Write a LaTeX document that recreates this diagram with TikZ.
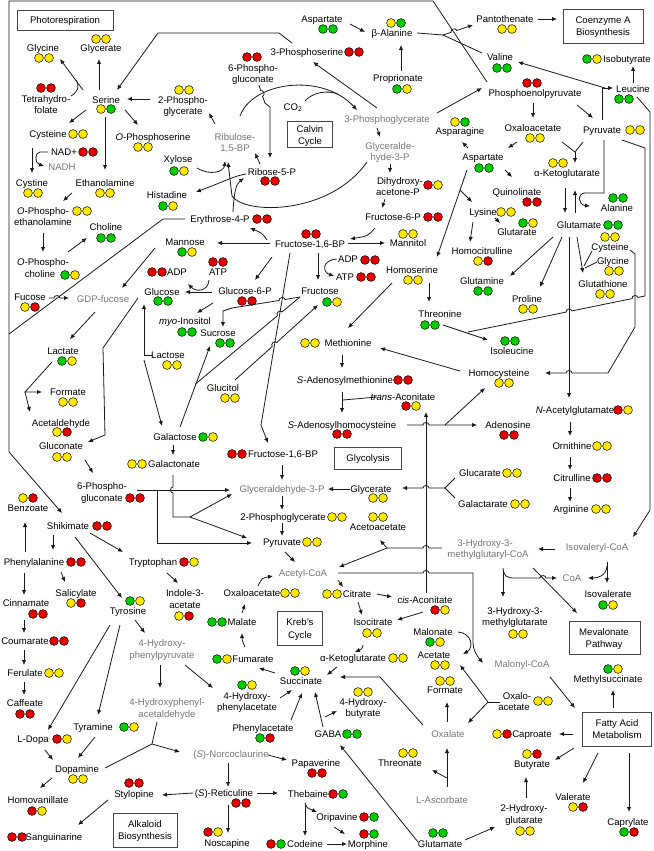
\documentclass[tikz,border=0pt]{standalone}
\usepackage{fontspec}
\setmainfont{Liberation Sans}
\usetikzlibrary{arrows.meta,calc}
\definecolor{R}{RGB}{228,0,0}
\definecolor{Y}{RGB}{255,232,0}
\definecolor{G}{RGB}{0,205,0}
\definecolor{gtxt}{RGB}{118,118,118}
\definecolor{lc}{RGB}{25,25,25}
\definecolor{bxc}{RGB}{70,70,70}
\tikzset{
  lb/.style={font=\fontsize{9.6}{11}\selectfont, inner sep=0pt, anchor=base, yshift=-3.4pt},
  gl/.style={lb, text=gtxt},
  ln/.style={draw=lc, line width=0.8pt},
  arr/.style={ln, -{Latex[length=5pt,width=4.4pt]}},
  bx/.style={draw=bxc, line width=0.9pt},
  hop/.style={bend left=90, looseness=1.4},
  hopr/.style={bend right=90, looseness=1.4},
}
\newcommand\dd[4]{\filldraw[draw=black,line width=0.5pt,fill=#3] (#1,#2) circle (4.4pt);\filldraw[draw=black,line width=0.5pt,fill=#4] ({#1+10},#2) circle (4.4pt);}
\begin{document}
\begin{tikzpicture}[x=1pt,y=-1pt]
\useasboundingbox (0,0) rectangle (653,851);
\fill[white] (0,0) rectangle (653,851);
% ---------------- boxes
\draw[bx] (17,10) rectangle (113,30); \node[lb] (photo) at (65,20) {Photorespiration};
\draw[bx] (287,121) rectangle (332,147); \node[lb] (calv1) at (310,129) {Calvin}; \node[lb] (calv2) at (310,141) {Cycle};
\draw[bx] (563,9) rectangle (643,43); \node[lb] (coa1) at (603,20) {Coenzyme A}; \node[lb] (coa2) at (603,32) {Biosynthesis};
\draw[bx] (334,447) rectangle (401,469); \node[lb] (glyco) at (368,458) {Glycolysis};
\draw[bx] (277,611) rectangle (322,645); \node[lb] (kr1) at (300,622) {Kreb’s}; \node[lb] (kr2) at (300,635) {Cycle};
\draw[bx] (569,621) rectangle (640,654); \node[lb] (mev1) at (604,632) {Mevalonate}; \node[lb] (mev2) at (604,644) {Pathway};
\draw[bx] (582,712) rectangle (651,746); \node[lb] (fam1) at (617,723) {Fatty Acid}; \node[lb] (fam2) at (617,735) {Metabolism};
\draw[bx] (113,813) rectangle (177,847); \node[lb] (alk1) at (145,824) {Alkaloid}; \node[lb] (alk2) at (145,836) {Biosynthesis};
% ---------------- top-left
\node[lb] (glyc1) at (101,48) {Glycerate}; \dd{96}{39}{Y}{Y}
\node[lb] (glycine1) at (43,48) {Glycine}; \dd{39}{58}{Y}{Y}
\node[lb] (thf) at (46,99) {Tetrahydro-}; \node[lb] at (46,110) {folate}; \dd{41}{88}{R}{R}
\node[lb] (ser) at (106,100) {Serine}; \dd{101}{109}{Y}{G}
\node[lb] (pg2a) at (183,100) {2-Phospho-}; \node[lb] at (183,111) {glycerate}; \dd{179}{90}{Y}{Y}
\node[lb] (cys1) at (48,134) {Cysteine}; \dd{73}{134}{Y}{Y}
\node[lb] (ophser) at (153,137) {\textit{O}-Phosphoserine}; \dd{138}{147}{Y}{Y}
\node[lb] (nad) at (64,152) {NAD+}; \dd{83}{152}{R}{R}
\node[gl] (nadh) at (62,167) {NADH};
\node[lb] (cystine) at (32,183) {Cystine}; \dd{28}{193}{Y}{Y}
\node[lb] (etha) at (105,183) {Ethanolamine}; \dd{100}{193}{Y}{Y}
\node[lb] (xyl) at (178,159) {Xylose}; \dd{174}{171}{G}{Y}
\node[lb] (his) at (167,195) {Histadine}; \dd{163}{206}{G}{Y}
\node[gl] (rubp) at (235,137) {Ribulose-}; \node[gl] at (235,148) {1,5-BP};
\node[lb] (opea) at (43,211) {\textit{O}-Phospho-}; \node[lb] at (43,222) {ethanolamine}; \dd{77}{211}{Y}{Y}
\node[lb] (opcho) at (43,262) {\textit{O}-Phospho-}; \node[lb] at (40,274) {choline}; \dd{65}{275}{G}{Y}
\node[lb] (chol) at (106,227) {Choline}; \dd{101}{238}{G}{G}
\node[lb] (e4p) at (220,219) {Erythrose-4-P}; \dd{257}{219}{R}{R}
\node[lb] (man) at (185,242) {Mannose}; \dd{182}{252}{G}{Y}
\node[lb] (adp1) at (177,272) {ADP}; \dd{152}{272}{R}{R}
\node[lb] (atp1) at (218,272) {ATP}; \dd{213}{262}{R}{R}
\node[lb] (glc) at (162,292) {Glucose}; \dd{158}{301}{G}{G}
\node[lb] (fuc) at (30,297) {Fucose}; \dd{25}{307}{Y}{R}
\node[gl] (gdpf) at (103,299) {GDP-fucose};
\node[lb] (g6p) at (245,291) {Glucose-6-P}; \dd{242}{301}{R}{R}
\node[lb] (myo) at (185,321) {\textit{myo}-Inositol}; \dd{182}{332}{G}{G}
\node[lb] (suc) at (218,333) {Sucrose}; \dd{220}{343}{G}{G}
\node[lb] (lac) at (63,351) {Lactate}; \dd{62}{361}{G}{Y}
\node[lb] (lcto) at (168,355) {Lactose}; \dd{167}{365}{Y}{Y}
\node[lb] (form1) at (68,392) {Formate}; \dd{63}{402}{Y}{Y}
\node[lb] (gcit) at (223,388) {Glucitol}; \dd{225}{398}{Y}{Y}
\node[lb] (acald) at (61,423) {Acetaldehyde}; \dd{57}{432}{Y}{R}
\node[lb] (glcn) at (61,446) {Gluconate}; \dd{57}{457}{Y}{Y}
\node[lb] (gal) at (175,437) {Galactose}; \dd{203}{437}{G}{Y}
\node[lb] (galn) at (174,464) {Galactonate}; \dd{132}{464}{Y}{Y}
\node[lb] (pgl6b) at (102,486) {6-Phospho-}; \node[lb] at (102,498) {gluconate}; \dd{130}{498}{R}{R}
\node[lb] (benz) at (28,508) {Benzoate}; \dd{23}{498}{Y}{R}
\node[lb] (shik) at (68,526) {Shikimate}; \dd{97}{526}{R}{R}
\node[lb] (phe) at (34,562) {Phenylalanine}; \dd{71}{562}{R}{R}
\node[lb] (trp) at (153,562) {Tryptophan}; \dd{184}{562}{R}{Y}
\node[lb] (sal) at (76,593) {Salicylate}; \dd{71}{603}{Y}{R}
\node[lb] (cinn) at (26,603) {Cinnamate}; \dd{33}{614}{R}{R}
\node[lb] (tyr) at (128,611) {Tyrosine}; \dd{130}{601}{G}{Y}
\node[lb] (iaa) at (185,593) {Indole-3-}; \node[lb] at (185,605) {acetate}; \dd{179}{616}{Y}{R}
\node[lb] (coum) at (25,641) {Coumarate}; \dd{54}{641}{R}{R}
\node[gl] (hpp) at (162,643) {4-Hydroxy-}; \node[gl] at (162,655) {phenylpyruvate};
\node[lb] (feru) at (25,673) {Ferulate}; \dd{49}{673}{Y}{Y}
\node[lb] (caff) at (25,703) {Caffeate}; \dd{20}{714}{R}{R}
\node[gl] (hpald) at (167,702) {4-Hydroxyphenyl-}; \node[gl] at (167,714) {acetaldehyde};
\node[lb] (ldopa) at (33,739) {L-Dopa}; \dd{57}{739}{R}{Y}
\node[lb] (tyra) at (93,727) {Tyramine}; \dd{124}{727}{G}{Y}
\node[lb] (dopa) at (77,769) {Dopamine}; \dd{73}{779}{Y}{Y}
\node[gl] (norco) at (231,754) {(\textit{S})-Norcoclaurine};
\node[lb] (papa) at (316,763) {Papaverine}; \dd{312}{773}{R}{R}
\node[lb] (retic) at (224,793) {(\textit{S})-Reticuline}; \dd{236}{803}{R}{R}
\node[lb] (stylo) at (134,794) {Stylopine}; \dd{129}{783}{R}{R}
\node[lb] (hva) at (38,800) {Homovanillate}; \dd{32}{811}{R}{Y}
\node[lb] (sang) at (54,837) {Sanguinarine}; \dd{12}{837}{R}{R}
\node[lb] (nosc) at (227,843) {Noscapine}; \dd{208}{832}{R}{Y}
\node[lb] (theb) at (308,794) {Thebaine}; \dd{333}{794}{R}{G}
\node[lb] (orip) at (337,817) {Oripavine}; \dd{364}{817}{R}{G}
\node[lb] (cod) at (305,844) {Codeine}; \dd{271}{844}{R}{G}
\node[lb] (morph) at (368,844) {Morphine}; \dd{364}{834}{R}{G}
% ---------------- middle
\node[lb] (asp1) at (322,19) {Aspartate}; \dd{323}{29}{G}{G}
\node[lb] (bala) at (392,33) {β-Alanine}; \dd{391}{23}{Y}{G}
\node[lb] (prop) at (398,78) {Proprionate}; \dd{397}{89}{G}{Y}
\node[lb] (pser) at (307,52) {3-Phosphoserine}; \dd{349}{52}{R}{R}
\node[lb] (pgl6a) at (253,68) {6-Phospho-}; \node[lb] at (253,79) {gluconate}; \dd{247}{57}{R}{R}
\node[lb] (co2) at (293,107) {CO\textsubscript{2}};
\node[gl] (pga3) at (387,119) {3-Phosphoglycerate};
\node[gl] (gap1) at (390,146) {Glyceralde-}; \node[gl] at (390,157) {hyde-3-P};
\node[lb] (dhap) at (400,181) {Dihydroxy-}; \node[lb] at (398,192) {acetone-P}; \dd{428}{185}{R}{Y}
\node[lb] (f6p) at (393,217) {Fructose-6-P}; \dd{428}{217}{R}{R}
\node[lb] (r5p) at (272,172) {Ribose-5-P}; \dd{265}{181}{R}{R}
\node[lb] (f16a) at (310,244) {Fructose-1,6-BP}; \dd{306}{234}{R}{R}
\node[lb] (mnt) at (408,243) {Mannitol}; \dd{403}{234}{Y}{Y}
\node[lb] (adp2) at (348,259) {ADP}; \dd{365}{260}{R}{R}
\node[lb] (atp2) at (345,277) {ATP}; \dd{361}{277}{R}{R}
\node[lb] (fru) at (320,291) {Fructose}; \dd{327}{302}{G}{Y}
\node[lb] (hser) at (412,270) {Homoserine}; \dd{408}{280}{Y}{Y}
\node[lb] (thr) at (440,314) {Threonine}; \dd{425}{325}{G}{G}
\node[lb] (met) at (348,343) {Methionine}; \dd{305}{343}{Y}{Y}
\node[lb] (sam) at (345,380) {\textit{S}-Adenosylmethionine}; \dd{398}{380}{R}{R}
\node[lb] (tacon) at (403,397) {\textit{trans}-Aconitate}; \dd{406}{406}{R}{Y}
\node[lb] (sah) at (342,425) {\textit{S}-Adenosylhomocysteine}; \dd{337}{434}{R}{R}
\node[lb] (f16b) at (283,454) {Fructose-1,6-BP}; \dd{232}{454}{R}{R}
\node[gl] (gap2) at (282,489) {Glyceraldehyde-3-P};
\node[lb] (glyc2) at (371,489) {Glycerate}; \dd{373}{498}{Y}{Y}
\node[lb] (pg2b) at (283,517) {2-Phosphoglycerate}; \dd{332}{517}{Y}{Y}
\node[lb] (acac) at (378,527) {Acetoacetate}; \dd{373}{517}{Y}{Y}
\node[lb] (pyr2) at (282,542) {Pyruvate}; \dd{307}{542}{Y}{Y}
\node[gl] (acoa) at (303,573) {Acetyl-CoA};
\node[lb] (oaa2) at (252,593) {Oxaloacetate}; \dd{285}{593}{Y}{Y}
\node[lb] (cit) at (357,594) {Citrate}; \dd{327}{594}{Y}{Y}
\node[lb] (cacon) at (425,600) {\textit{cis}-Aconitate}; \dd{435}{610}{R}{Y}
\node[lb] (mal) at (242,622) {Malate}; \dd{212}{622}{G}{G}
\node[lb] (icit) at (373,622) {Isocitrate}; \dd{367}{633}{Y}{Y}
\node[lb] (mlnt) at (433,632) {Malonate}; \dd{430}{642}{G}{Y}
\node[lb] (acet) at (434,655) {Acetate}; \dd{435}{665}{Y}{Y}
\node[lb] (fum) at (253,659) {Fumarate}; \dd{217}{659}{G}{Y}
\node[lb] (akg2) at (353,658) {α-Ketoglutarate}; \dd{393}{658}{Y}{Y}
\node[lb] (succ) at (301,681) {Succinate}; \dd{295}{671}{G}{Y}
\node[lb] (form2) at (445,690) {Formate}; \dd{440}{681}{Y}{Y}
\node[lb] (hpac) at (247,696) {4-Hydroxy-}; \node[lb] at (247,707) {phenylacetate}; \dd{242}{685}{G}{Y}
\node[lb] (hbut) at (363,702) {4-Hydroxy-}; \node[lb] at (363,713) {butyrate}; \dd{358}{692}{Y}{Y}
\node[lb] (oaa3) at (517,696) {Oxalo-}; \node[lb] at (514,707) {acetate}; \dd{538}{701}{Y}{Y}
\node[gl] (mcoa) at (522,664) {Malonyl-CoA};
\node[lb] (phac) at (263,728) {Phenylacetate}; \dd{260}{738}{G}{R}
\node[lb] (gaba) at (328,734) {GABA}; \dd{347}{734}{G}{G}
\node[gl] (oxal) at (448,734) {Oxalate};
\node[lb] (thra) at (400,763) {Threonate}; \dd{403}{753}{Y}{Y}
\node[gl] (asc) at (442,800) {L-Ascorbate};
\node[lb] (glu2) at (440,844) {Glutamate}; \dd{433}{833}{G}{G}
% ---------------- right
\node[lb] (pant) at (505,19) {Pantothenate}; \dd{502}{29}{Y}{Y}
\node[lb] (val) at (500,57) {Valine}; \dd{497}{68}{G}{G}
\node[lb] (ibut) at (627,59) {Isobutyrate}; \dd{587}{59}{G}{Y}
\node[lb] (leu) at (633,89) {Leucine}; \dd{619}{99}{G}{G}
\node[lb] (pep) at (535,93) {Phosphoenolpyruvate}; \dd{527}{83}{R}{R}
\node[lb] (oaa1) at (533,128) {Oxaloacetate}; \dd{530}{138}{Y}{Y}
\node[lb] (pyr1) at (602,130) {Pyruvate}; \dd{630}{130}{Y}{Y}
\node[lb] (asn) at (460,131) {Asparagine}; \dd{455}{122}{Y}{G}
\node[lb] (asp2) at (483,157) {Aspartate}; \dd{479}{168}{G}{G}
\node[lb] (akg1) at (567,173) {α-Ketoglutarate}; \dd{553}{163}{Y}{Y}
\node[lb] (quin) at (517,192) {Quinolinate}; \dd{527}{202}{R}{R}
\node[lb] (ala) at (617,208) {Alanine}; \dd{613}{198}{G}{G}
\node[lb] (lys) at (483,212) {Lysine}; \dd{501}{212}{Y}{Y}
\node[lb] (glu1) at (579,225) {Glutamate}; \dd{608}{225}{G}{G}
\node[lb] (glut) at (517,232) {Glutarate}; \dd{523}{223}{G}{Y}
\node[lb] (cys2) at (610,247) {Cysteine}; \dd{605}{237}{Y}{Y}
\node[lb] (hcit) at (482,251) {Homocitrulline}; \dd{478}{261}{Y}{R}
\node[lb] (gly2) at (613,261) {Glycine}; \dd{609}{271}{Y}{Y}
\node[lb] (gln) at (482,281) {Glutamine}; \dd{478}{291}{G}{G}
\node[lb] (gsh) at (603,284) {Glutathione}; \dd{600}{294}{Y}{Y}
\node[lb] (pro) at (527,299) {Proline}; \dd{523}{309}{Y}{Y}
\node[lb] (ile) at (512,351) {Isoleucine}; \dd{505}{341}{G}{G}
\node[lb] (hcys) at (499,373) {Homocysteine}; \dd{499}{383}{Y}{Y}
\node[lb] (nag) at (575,410) {\textit{N}-Acetylglutamate}; \dd{618}{410}{R}{Y}
\node[lb] (ado) at (508,425) {Adenosine}; \dd{504}{435}{R}{R}
\node[lb] (orn) at (572,446) {Ornithine}; \dd{597}{446}{Y}{Y}
\node[lb] (glcr) at (480,473) {Glucarate}; \dd{507}{473}{Y}{Y}
\node[lb] (citr) at (572,478) {Citrulline}; \dd{597}{478}{R}{R}
\node[lb] (galr) at (483,504) {Galactarate}; \dd{515}{504}{Y}{Y}
\node[lb] (arg) at (571,509) {Arginine}; \dd{596}{509}{Y}{Y}
\node[gl] (hmgcoa) at (485,543) {3-Hydroxy-3-}; \node[gl] at (488,554) {methylglutaryl-CoA};
\node[gl] (ivcoa) at (597,547) {Isovaleryl-CoA};
\node[gl] (coa) at (572,578) {CoA};
\node[lb] (ival) at (608,594) {Isovalerate}; \dd{603}{605}{G}{Y}
\node[lb] (hmg) at (515,611) {3-Hydroxy-3-}; \node[lb] at (515,622) {methylglutarate}; \dd{513}{634}{Y}{Y}
\node[lb] (msuc) at (608,679) {Methylsuccinate}; \dd{608}{669}{G}{Y}
\node[lb] (capr) at (532,734) {Caproate}; \dd{497}{734}{Y}{R}
\node[lb] (buty) at (532,764) {Butyrate}; \dd{527}{754}{Y}{R}
\node[lb] (vale) at (573,797) {Valerate}; \dd{573}{807}{Y}{R}
\node[lb] (hglu) at (524,808) {2-Hydroxy-}; \node[lb] at (524,820) {glutarate}; \dd{520}{831}{Y}{Y}
\node[lb] (capry) at (628,822) {Caprylate}; \dd{624}{832}{G}{R}
% ================= connectors
% frame
\draw[arr] (487,82) -- (433,1) -- (9,1) -- (9,452) -- (62,513);
\draw[ln] (185,219) -- (163,219) -- (9,334);
% photorespiration
\draw[arr] (99,90) -- (99,59);
\draw[arr] (83,90) -- (60,59);
\draw[ln] (71,96) .. controls (78,92) and (80,86) .. (76,80);
\draw[arr] (150,99) -- (127,99);
\draw[arr] (215,124) -- (209,113);
\draw[arr] (292,43) -- (279,33) -- (158,33) -- (117,90);
\draw[arr] (86,110) -- (69,123);
\draw[arr] (125,110) -- (138,125);
\draw[arr] (105,117) -- (105,170);
\draw[arr] (32,148) -- (32,173);
\draw[arr] (48,152) -- (40,152) .. controls (35,152) and (34,163) .. (44,166);
\draw[arr] (72,193) -- (63,201);
\draw[arr] (197,168) .. controls (210,176) and (224,172) .. (225,161);
\draw[arr] (43,233) -- (43,252);
\draw[arr] (68,252) -- (87,238);
\draw[arr] (246,174) .. controls (234,176) and (228,180) .. (196,192);
% Calvin
\draw[arr] (240,116) .. controls (252,82) and (322,72) .. (357,110);
\draw[ln] (305,101) .. controls (313,92) and (327,90) .. (338,94);
\draw[arr] (259,85) -- ($(261.5,93.5)!3pt!(259,85)$) to[hop] ($(261.5,93.5)!3pt!(265,103)$) -- (265,103) -- (270,107) -- (270,158);
\draw[arr] (377,108) -- (313,62);
\draw[arr] (377,128) -- (380,137);
\draw[arr] (390,164) -- (390,173);
\draw[arr] (385,199) -- (382,208);
\draw[arr] (367,162) .. controls (330,215) and (245,215) .. (232,196) -- (228,162);
\draw[arr] (260,164) -- (255,153);
\draw[arr] (233,212) .. controls (234,192) and (236,184) .. (244,178);
% beta-alanine
\draw[arr] (350,24) -- (365,32);
\draw[arr] (401,71) -- (401,45);
\draw[ln] (417,33) -- (443,35);
\draw[arr] (443,35) -- ($(453.9,31.4)!3pt!(443,35)$) to[hop] ($(453.9,31.4)!3pt!(473,25)$) -- (473,25);
\draw[ln] (443,35) -- (482,53);
\draw[arr] (538,19) -- (557,19);
% sugars
\draw[arr] (375,228) .. controls (368,236) .. (350,239);
\draw[arr] (267,240) .. controls (262,233) .. (250,228);
\draw[arr] (270,243) -- (217,243);
\draw[arr] (348,243) -- (385,243);
\draw[arr] (272,257) -- (255,280);
\draw[arr] (318,253) -- (318,280);
\draw[arr] (337,259) .. controls (322,260) and (322,272) .. (334,276);
\draw[arr] (155,248) -- (122,288);
\draw[arr] (212,292) -- (185,292);
\draw[arr] (209,280) .. controls (208,292) and (196,292) .. (188,284);
\draw[arr] (49,298) -- (54,298) to[hop] (60,298) -- (69,298);
\draw[arr] (95,312) -- (70,339);
\draw[arr] (213,303) -- (197,313);
\draw[arr] (300,297) -- (285,299.5) to[hopr] (279,300.5) -- (232,308) -- (223,311) -- (223,327);
\draw[arr] (235,380) -- ($(274.5,344.5)!3pt!(235,380)$) to[hop] ($(274.5,344.5)!3pt!(318,305)$) -- (318,305);
\draw[arr] (290,253) -- (261,425) -- (268,443);
\draw[arr] (153,355) -- (144,355) -- (144,304);
\draw[arr] (144,360) -- (162,426);
\draw[arr] (180,427) -- (210,346);
\draw[ln] (300,297) -- ($(279.8,313.8)!3pt!(300,297)$) to[hopr] ($(279.8,313.8)!3pt!(195.5,384)$) -- (195.5,384);
\draw[arr] (52,362) -- (25,392) -- (42,392);
\draw[arr] (25,392) -- (30,412);
\draw[arr] (138,298) -- (103,348) -- (105,435) -- (88,442);
\draw[arr] (85,460) -- (93,473);
\draw[arr] (173,445) -- (173,455);
% to glycolysis
\draw[arr] (137,490) -- (230,490);
\draw[arr] (157,490) -- (157,543) -- (252,543);
\draw[ln] (173,475) -- (173,487) to[hopr] (173,493) -- (173,517) -- (190,517);
\draw[arr] (190,517) -- (232,494);
\draw[arr] (190,517) -- (247,538);
% shikimate
\draw[arr] (25,552) -- (25,522);
\draw[arr] (53,535) -- (53,550);
\draw[arr] (90,533) -- (123,552);
\draw[arr] (75,537) -- (122,598);
\draw[arr] (61,572) -- (65,582);
\draw[arr] (24,573) -- (24,595);
\draw[arr] (167,573) -- (178,583);
\draw[arr] (24,620) -- (24,633);
\draw[arr] (24,650) -- (24,665);
\draw[arr] (24,682) -- (24,695);
\draw[arr] (110,625) -- (48,730);
\draw[arr] (120,625) -- (98,715);
\draw[arr] (135,620) -- (145,633);
\draw[arr] (160,665) -- (160,688);
\draw[arr] (185,665) -- (213,688);
\draw[arr] (45,750) -- (53,760);
\draw[arr] (95,737) -- (78,758);
\draw[ln] (105,768) -- (152,744);
\draw[ln] (157,722) -- (152,744);
\draw[arr] (152,744) -- (180,752);
\draw[arr] (268,755) -- (287,760);
\draw[arr] (228,763) -- (228,787);
\draw[arr] (193,793) -- (162,795);
\draw[arr] (108,800) -- (78,825);
\draw[arr] (52,778) -- (40,788);
\draw[arr] (228,805) -- (228,833);
\draw[arr] (257,793) -- (278,793);
\draw[arr] (305,803) .. controls (307,808) .. (317,812);
\draw[arr] (305,803) -- (305,836);
\draw[arr] (334,827) -- (345,834);
\draw[arr] (327,844) -- (347,844);
% amino acids middle
\draw[arr] (429,283) -- (429,302);
\draw[arr] (392,283) -- (348,328);
\draw[arr] (467,170) -- (437,257);
\draw[arr] (460,190) -- (472,202);
\draw[arr] (460,371) -- (380,348);
\draw[arr] (342,355) -- (342,368);
\draw[arr] (342,392) -- (342,413);
\draw[ln] (377,397) -- (343,400);
\draw[arr] (426,593) -- (426,412);
\draw[arr] (407,425) -- (423,425) to[hop] (429,425) -- (477,425);
\draw[arr] (445,425) -- (485,388);
% glycolysis
\draw[arr] (282,465) -- (282,480);
\draw[arr] (350,489) -- (328,489);
\draw[ln] (455,478) -- (445,488) -- (455,498);
\draw[arr] (445,488) -- (429,488) to[hopr] (423,488) -- (402,488);
\draw[arr] (282,496) -- (282,510);
\draw[arr] (282,523) -- (282,536);
\draw[ln] (442,548) -- (429,548) to[hopr] (423,548) -- (387,548);
\draw[arr] (387,548) -- (380,540);
\draw[arr] (387,548) -- (339,567);
\draw[arr] (285,552) -- (295,562);
\draw[arr] (338,573) -- (423,573) to[hop] (429,573) -- (473,573) -- (473,643) .. controls (473,650) and (477,656) .. (483,663);
\draw[arr] (338,580) -- (343,587);
\draw[arr] (258,586) .. controls (262,578) .. (273,576);
\draw[arr] (377,594) -- (392,597);
\draw[arr] (358,602) -- (362,615);
\draw[arr] (242,613) -- (245,604);
\draw[arr] (423,612) -- (397,620);
\draw[arr] (363,645) .. controls (362,649) .. (355,652);
\draw[arr] (337,667) -- (327,675);
\draw[arr] (275,673) -- (259,668);
\draw[arr] (245,647) .. controls (242,640) .. (242,633);
\draw[arr] (280,698) -- (292,690);
\draw[arr] (291,720) -- (302,693);
\draw[arr] (323,727) -- (315,692);
\draw[arr] (325,717) -- (337,711);
\draw[arr] (423,725) -- (380,677) -- (340,677);
\draw[arr] (418,842) -- (340,745);
\draw[arr] (465,840) -- (495,827);
\draw[arr] (447,787) -- (447,748);
\draw[arr] (447,778) -- (432,770);
\draw[arr] (447,722) -- (447,702);
\draw[arr] (458,632) .. controls (472,633) and (474,648) .. (463,654);
\draw[ln] (500,702) -- (488,702);
\draw[arr] (488,702) -- (460,665);
\draw[arr] (488,702) -- (468,723);
\draw[arr] (550,677) -- (575,708);
\draw[arr] (613,708) -- (613,690);
\draw[arr] (573,734) -- (559,734);
\draw[arr] (574,748) -- (555,760);
\draw[arr] (526,798) -- (526,777);
\draw[arr] (598,753) -- (583,783);
\draw[arr] (629,753) -- (629,812);
% right
\draw[arr] (602,120) -- (602,88) -- (613,88);
\draw[arr] (605,88) -- (518,62);
\draw[arr] (633,83) -- (633,66);
\draw[arr] (637,97) -- (650,112) -- (650,510) -- (633,537);
\draw[arr] (437,113) -- (482,88);
\draw[arr] (533,103) -- (533,118);
\draw[arr] (577,105) -- (593,118);
\draw[arr] (517,142) -- (508,148);
\draw[arr] (468,148) -- (462,142);
\draw[arr] (505,170) -- (512,177);
\draw[ln] (562,142) -- (575,152) -- (583,142);
\draw[arr] (575,152) -- (575,163);
\draw[arr] (565,188) -- (565,213);
\draw[arr] (575,213) -- (575,190);
\draw[arr] (604,140) -- (604,193) -- (585,193) .. controls (577,193) and (578,205) .. (590,206);
\draw[ln] (622,140) -- (645,148) -- (645,296) -- ($(635,298)!3pt!(645,296)$) to[hopr] ($(635,298)!3pt!(468,332)$) -- ($(569,311.5)!3pt!(645,296)$) to[hopr] ($(569,311.5)!3pt!(468,332)$) -- (468,332);
\draw[arr] (443,325) -- (488,340);
\draw[arr] (495,218) -- (500,223);
\draw[arr] (473,222) -- (470,242);
\draw[arr] (553,237) -- (510,276);
\draw[arr] (562,237) -- (540,287);
\draw[arr] (577,237) -- (583,273);
\draw[ln] (592,251) -- (584,266);
\draw[ln] (597,262) -- (585,268);
\draw[arr] (569,237) -- (569,398);
\draw[arr] (630,250) -- (635,254) -- (635,327) -- (608,373) -- (572,373) to[hopr] (566,373) -- (545,373);
\draw[arr] (570,422) -- (570,436);
\draw[arr] (570,457) -- (570,470);
\draw[arr] (570,488) -- (570,502);
\draw[arr] (555,549) -- (538,549);
\draw[arr] (607,562) -- (607,583);
\draw[arr] (607,566) .. controls (606,576) and (598,578) .. (588,578);
\draw[arr] (503,568) .. controls (504,576) and (506,578) .. (515,578) -- (540,578) to[hop] (546,578) -- (557,578);
\draw[arr] (503,570) -- (503,597);
\draw[arr] (533,568) -- (577,613);
\end{tikzpicture}
\end{document}
